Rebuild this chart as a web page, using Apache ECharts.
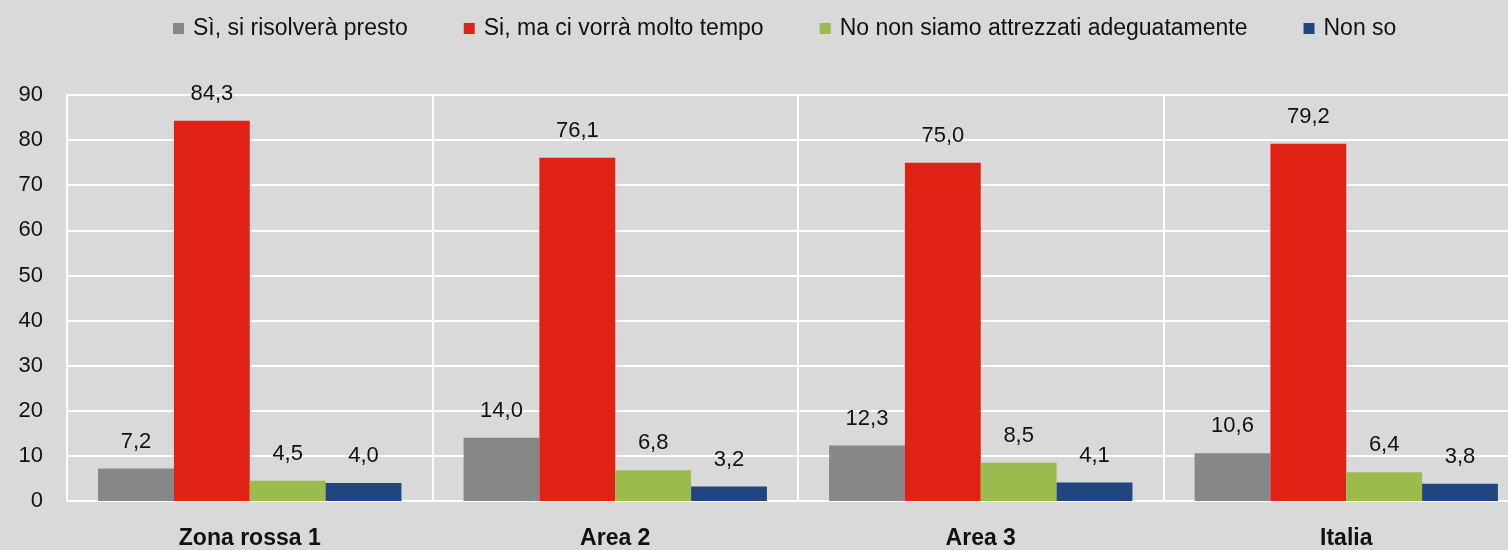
<!DOCTYPE html>
<html>
<head>
<meta charset="utf-8">
<script src="https://cdn.jsdelivr.net/npm/echarts@6/dist/echarts.min.js"></script>
<style>
  html, body { margin: 0; padding: 0; background: #d9d9d9; overflow: hidden; }
  /* il grafico originale è tagliato a destra: l'area continua oltre la finestra */
  #chart { width: 1529px; height: 550px; }
</style>
</head>
<body>
<div id="chart"></div>
<script>
  // dati
  var categories = ['Zona rossa 1', 'Area 2', 'Area 3', 'Italia'];
  var seriesNames = ['Sì, si risolverà presto', 'Si, ma ci vorrà molto tempo', 'No non siamo attrezzati adeguatamente', 'Non so'];
  var presto = [7.2, 14.0, 12.3, 10.6];
  var moltoTempo = [84.3, 76.1, 75.0, 79.2];
  var nonAttrezzati = [4.5, 6.8, 8.5, 6.4];
  var nonSo = [4.0, 3.2, 4.1, 3.8];
  var colors = ['#878787', '#e02214', '#9bbb4c', '#21467f'];

  var font = '"Liberation Sans", Arial, sans-serif';

  var myChart = echarts.init(document.getElementById('chart'));

  function barSeries(name, data, color) {
    return {
      name: name,
      type: 'bar',
      data: data,
      barGap: '0%',
      barCategoryGap: '17%',
      itemStyle: { color: color },
      label: {
        show: true,
        position: 'top',
        distance: 16,
        color: '#111',
        fontFamily: font,
        fontSize: 22,
        formatter: function (p) { return p.value.toFixed(1).replace('.', ','); }
      }
    };
  }

  myChart.setOption({
    backgroundColor: '#d9d9d9',
    color: colors,
    textStyle: { fontFamily: font },
    legend: {
      top: 12,
      left: 168,
      itemWidth: 11,
      itemHeight: 11,
      itemGap: 56,
      icon: 'rect',
      textStyle: { fontSize: 23, color: '#111', fontFamily: font, padding: [0, 0, 0, 4] }
    },
    grid: {
      left: 67,
      right: 0,
      top: 95,
      bottom: 48,
      containLabel: false
    },
    xAxis: {
      type: 'category',
      data: categories,
      axisTick: { show: false },
      axisLine: { lineStyle: { color: '#ffffff', width: 2 } },
      splitLine: { show: true, lineStyle: { color: '#ffffff', width: 2 } },
      axisLabel: {
        color: '#111',
        fontSize: 23,
        fontWeight: 'bold',
        fontFamily: font,
        margin: 26
      }
    },
    yAxis: {
      type: 'value',
      min: 0,
      max: 90,
      interval: 10,
      axisLine: { show: true, lineStyle: { color: '#ffffff', width: 2 } },
      axisTick: { show: false },
      splitLine: { lineStyle: { color: '#ffffff', width: 2 } },
      axisLabel: { color: '#111', fontSize: 22, fontFamily: font, margin: 24 }
    },
    series: [
      barSeries(seriesNames[0], presto, colors[0]),
      barSeries(seriesNames[1], moltoTempo, colors[1]),
      barSeries(seriesNames[2], nonAttrezzati, colors[2]),
      barSeries(seriesNames[3], nonSo, colors[3])
    ]
  });
</script>
</body>
</html>
